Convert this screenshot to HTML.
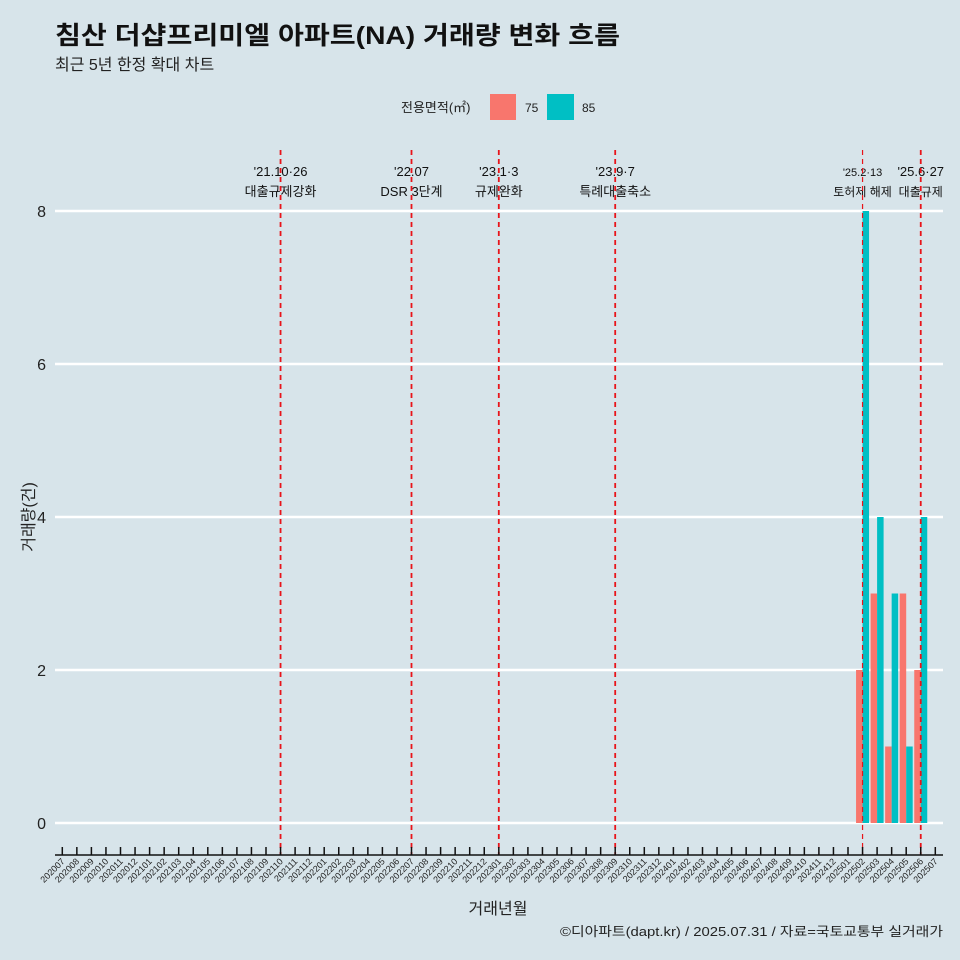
<!DOCTYPE html>
<html><head><meta charset="utf-8"><style>
body{margin:0;background:#d7e4ea;}
svg{display:block;font-family:"Liberation Sans","Noto Sans CJK KR",sans-serif;}
</style></head><body>
<svg id="chart" width="960" height="960">
<rect width="960" height="960" fill="#d7e4ea"/>
<text x="55" y="44" font-size="25" font-weight="bold" fill="#111" textLength="565" lengthAdjust="spacingAndGlyphs">침산 더샵프리미엘 아파트(NA) 거래량 변화 흐름</text>
<text x="55" y="70" font-size="16" fill="#222">최근 5년 한정 확대 차트</text>
<g>
<text x="401" y="112" font-size="13" fill="#222">전용면적(㎡)</text>
<rect x="490" y="94" width="26" height="26" fill="#f8766d"/>
<text x="525" y="112" font-size="12" fill="#222">75</text>
<rect x="547" y="94" width="27" height="26" fill="#00bfc4"/>
<text x="582" y="112" font-size="12" fill="#222">85</text>
</g>
<g id="grid"></g><g id="bars"></g><g id="events"></g><g id="xaxis"></g>
<text transform="translate(34,517) rotate(-90)" text-anchor="middle" font-size="16" fill="#222">거래량(건)</text>
<text x="498" y="914" text-anchor="middle" font-size="16" fill="#222">거래년월</text>
<text x="943" y="936" text-anchor="end" font-size="13" fill="#222" textLength="383" lengthAdjust="spacingAndGlyphs">©디아파트(dapt.kr) / 2025.07.31 / 자료=국토교통부 실거래가</text>
</svg>
<script>
const months=[];for(let y=2020;y<=2025;y++)for(let m=1;m<=12;m++){const k=y*100+m;if(k>=202007&&k<=202507)months.push(String(k));}
const barMonths=["202502","202503","202504","202505","202506"];
const series75=[2,3,1,3,2];
const series85=[8,4,3,1,4];
const yTicks=[0,2,4,6,8];
const eventMonths=["202110","202207","202301","202309","202502","202506"];
const eventDates=["'21.10·26","'22.07","'23.1·3","'23.9·7","'25.2·13","'25.6·27"];
const eventNames=["대출규제강화","DSR 3단계","규제완화","특례대출축소","토허제 해제","대출규제"];
const NS="http://www.w3.org/2000/svg";
const X=i=>62.3+14.55*i, Y=v=>823-76.5*v;
const xi=m=>months.indexOf(m);
function mk(t,a,p){const e=document.createElementNS(NS,t);for(const k in a)e.setAttribute(k,a[k]);document.getElementById(p).appendChild(e);return e;}
yTicks.forEach(v=>{
 const l=mk('line',{x1:55,x2:943,y1:Y(v),y2:Y(v),stroke:'#fff','stroke-width':2.5},'grid');
 
 
 const t=mk('text',{x:46,y:Y(v)+6,'text-anchor':'end','font-size':16,fill:'#222'},'grid');t.textContent=v;
 
 
});
const bw=6.5;
barMonths.forEach((m,k)=>{
 const c=X(xi(m));
 const a=mk('rect',{x:c-bw,y:Y(series75[k]),width:bw,height:Y(0)-Y(series75[k]),fill:'#f8766d'},'bars');
 
 
 const b=mk('rect',{x:c,y:Y(series85[k]),width:bw,height:Y(0)-Y(series85[k]),fill:'#00bfc4'},'bars');
 
 
});
eventMonths.forEach((m,k)=>{
 const x=X(xi(m));const small=(k>=4);
 const t1=mk('text',{x:x,y:176,'text-anchor':'middle','font-size':k==4?11:13,fill:'#111'},'events');t1.textContent=eventDates[k];
 
 
 const t2=mk('text',{x:x,y:196,'text-anchor':'middle','font-size':small?12:13,fill:'#111'},'events');t2.textContent=eventNames[k];
 
 
 const l=mk('line',{x1:x,x2:x,y1:150,y2:855,stroke:'#e8141a','stroke-width':k==4?1.2:1.8,'stroke-dasharray':'5,4'},'events');
 
 
});
const ax=mk('line',{x1:55,x2:943,y1:855,y2:855,stroke:'#111','stroke-width':1.5},'xaxis');


months.forEach((m,i)=>{
 const x=X(i);
 const tk=mk('line',{x1:x,x2:x,y1:847,y2:855,stroke:'#111','stroke-width':1.5},'xaxis');
 
 
 const t=mk('text',{transform:`translate(${x+3},${862}) rotate(-45)`,'text-anchor':'end','font-size':9,fill:'#222'},'xaxis');t.textContent=m;
 
 
});
</script>
</body></html>
